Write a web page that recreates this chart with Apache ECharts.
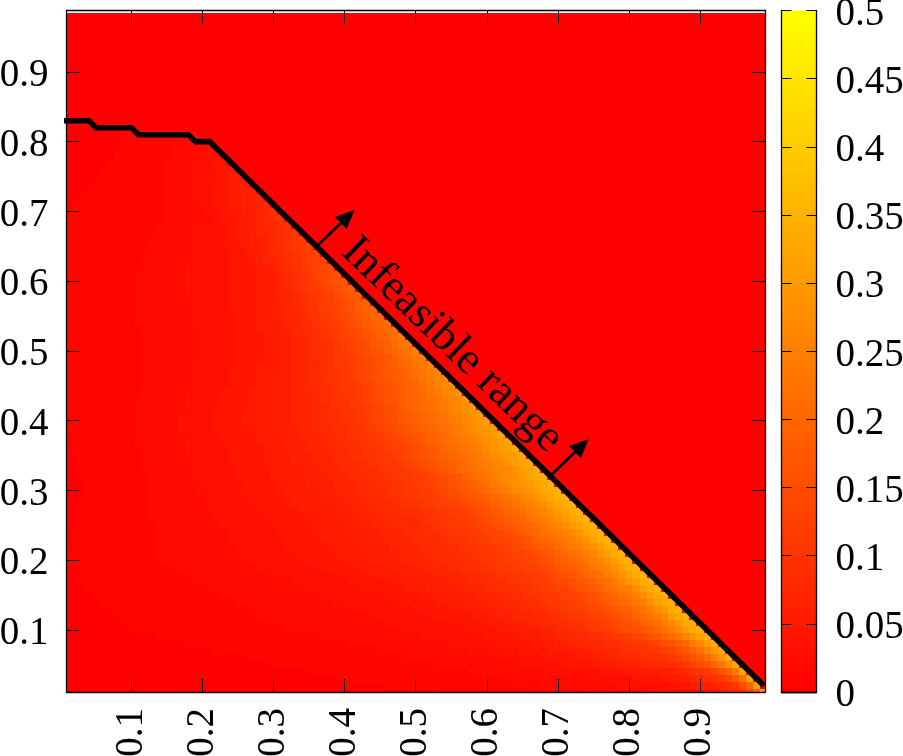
<!DOCTYPE html>
<html><head><meta charset="utf-8">
<style>html,body{margin:0;padding:0;background:#fff}#c{width:903px;height:756px}</style>
<script src="https://cdn.jsdelivr.net/npm/echarts@6/dist/echarts.min.js"></script>
</head><body><div id="c"></div>
<script>
// In rows y = 0.01, 0.02, ... (entry n is y = (n+1)/100).
// d is the distance, in cells, to the left of a row's last cell (x = 1 - y).
// edgeTails: levels (hundredths, base 36) for d = 9..0.
// levelReach: for levels 1, 2, 3, ... the farthest d (>= 10) at which that level is reached.
const edgeTails = [
"445678aeju","566789bfkv","6789abdhmw","789abdgjox","9abdfhknsx","abcegilpty","bcdfhjmquy","cdfgikorvy","eghjlnqtwz","ghikmoruxz",
"ghjkmprtxz","ghjlnprvxz","hijlnpsuxz","hjklnpsvxz","hjkmnpsvxz","ijlmopsvxz","ijlmoqtvyz","iklmpqtvyz","jklnpqtvyz","jklnpqtvyz",
"jlmnpqtvyz","jlmoprtvyz","klmoprtwyz","kmnoqrtwyz","kmnpqsuwyz","kmnpqsuwyz","lmopqsuwyz","lnoprsuwyz","lnoqrtvxyz","moprstvxyz",
"moprstuwxz","mnoqrsuwxy","mnopqrtvwy","lnopqrtvwx","lmnoqrtuvx","lmnpprtuvx","lmnopqstvw","klnopqstuw","klmnoqrtuv","klmnoprstv",
"jklmnpqstu","jklmnoqrsu","ijklmnpqrt","hijklnoqrt","ghijkmnprs","ghijklnopr","fghijkmnpq","efghiklnoq","defghjlmop","defghjkmnp",
"cdefhijlno","cdefghjkmo","bcdefhijln","bcdefgijkm","abcdefhikl","abcdefgijk","9abcdefgij","89abcdfghi","89abcdefhi","789abcefgh",
"6789abdefg","6789abcdef","67789abcde","567889abcd","566789abcd","5566789abc","45567789ab","445667889a","344556789a","3345566789",
"3344556678","3334455667","2333445566","2233344556","2223333455","2222333445","1222233344","1112222333","1111222223","1111111222",
"1111111122"
];
const levelReach = [
[45,25,16],[52,30,19,12],[57,34,23,16,12],[61,38,27,20,16,13],[65,42,30,24,20,17,15,13],[68,45,33,26,22,19,17,15,12],[71,48,35,28,24,21,18,16,14,11],[74,51,37,30,25,22,20,18,15,13,11],[77,54,40,31,26,23,21,19,16,14,13,11,10],[80,58,42,33,28,25,22,20,18,16,15,13,12,11,10],
[80,59,43,34,29,26,23,21,19,17,15,14,12,11,10],[80,60,44,36,30,27,24,21,19,17,16,14,13,11,10],[80,60,46,37,32,28,25,22,20,18,16,15,13,12,11,10],[80,61,47,38,33,29,25,23,20,18,17,15,13,12,11,10],[80,62,48,39,34,30,26,23,21,19,17,15,14,12,11,10],[80,63,49,41,35,32,27,24,22,19,17,16,14,12,11,11,10],[80,64,50,42,36,33,28,25,22,20,18,16,14,13,11,11,10],[79,64,52,43,38,34,29,25,23,20,18,16,14,13,12,11,10],[79,65,53,45,39,35,30,26,24,21,19,17,15,13,12,11,10,10],[79,66,54,46,40,36,31,27,24,21,19,17,15,13,12,11,10,10],
[78,65,54,46,40,36,31,27,24,21,19,17,15,13,12,11,10,10],[76,64,53,46,40,36,31,27,24,21,19,17,15,14,13,12,11,10],[75,63,53,45,40,36,31,27,24,22,19,18,16,14,13,12,11,10,10],[74,62,52,45,40,36,31,27,24,22,20,18,16,14,13,12,11,11,10],[72,61,52,45,39,35,31,28,24,22,20,18,16,15,14,13,12,11,10],[71,61,52,45,39,35,31,28,24,22,20,18,16,15,14,13,12,11,10],[70,60,51,45,39,35,31,28,25,22,20,18,16,15,14,13,12,11,10,10],[69,59,51,44,39,35,31,28,25,23,21,19,17,15,14,13,12,11,11,10],[67,58,50,44,39,35,31,28,25,23,21,19,17,16,15,14,13,12,11,10],[66,57,50,44,39,35,31,28,25,23,21,19,17,16,15,14,13,12,11,10,10],
[65,56,49,43,38,34,30,27,24,22,20,19,17,16,15,14,13,12,11,10,10],[65,55,49,43,38,34,30,27,24,22,20,18,16,15,14,13,12,11,11,10,10],[64,55,48,42,37,33,30,27,24,22,20,18,17,16,15,14,13,12,11,11,10],[63,54,47,42,37,33,30,27,24,22,20,18,17,16,15,14,13,12,11,10],[62,53,47,41,36,33,29,26,24,22,20,18,17,16,15,14,13,12,11,10],[62,52,46,40,35,32,29,26,23,21,19,18,17,15,14,13,12,11,10,10],[61,52,45,40,35,32,28,25,23,21,19,18,16,15,14,13,12,11,11,10],[60,51,45,39,34,31,28,25,23,21,19,17,16,15,14,13,12,11,10],[60,50,44,39,34,31,27,25,22,20,18,17,16,15,14,13,12,11,10],[59,49,43,38,34,30,27,24,22,20,18,17,16,15,14,13,12,11,10],
[58,48,42,37,33,29,26,23,21,19,17,16,15,14,13,12,11,10],[57,47,40,35,31,28,25,22,20,18,17,15,14,13,12,11,10,10],[56,46,39,34,30,27,24,21,20,18,16,15,14,13,12,11,10],[55,44,38,33,29,26,23,20,19,17,16,14,13,12,11,10],[54,43,36,31,27,25,22,20,18,16,15,13,12,11,10],[53,42,35,30,26,24,21,19,17,16,14,13,12,11,10],[52,41,34,29,25,22,20,18,16,15,13,12,11,10],[51,40,33,27,24,21,19,17,15,14,13,11,10],[50,39,31,26,22,20,18,16,15,13,12,10],[49,38,30,25,21,19,17,15,14,12,11,10],
[48,37,29,24,20,18,16,14,13,11,10],[47,36,28,23,19,17,15,13,12,11,10],[46,35,28,22,19,16,14,13,11,10],[45,35,27,21,18,15,14,12,11,10],[44,34,26,20,17,15,13,11,10],[43,33,25,20,16,14,12,11,10],[42,32,24,19,15,13,11,10],[41,31,24,18,14,12,11],[40,30,23,17,13,11,10],[39,29,22,16,12,10],
[38,28,21,15,11],[37,26,20,14,11],[36,25,18,13,10],[35,24,17,12],[34,22,16,11],[33,21,15,11],[32,19,14],[31,18,13],[30,16],[29,15],
[27,14],[25,13],[23,12],[21,11],[19,10],[18],[16],[14],[12],[11],
[10]
];

const cellXs = [0.01,0.02,0.03,0.04,0.05,0.06,0.07,0.08,0.09,0.1,0.11,0.12,0.13,0.14,0.15,0.16,0.17,0.18,0.19,0.2,0.21,0.22,0.23,0.24,0.25,0.26,0.27,0.28,0.29,0.3,0.31,0.32,0.33,0.34,0.35,0.36,0.37,0.38,0.39,0.4,0.41,0.42,0.43,0.44,0.45,0.46,0.47,0.48,0.49,0.5,0.51,0.52,0.53,0.54,0.55,0.56,0.57,0.58,0.59,0.6,0.61,0.62,0.63,0.64,0.65,0.66,0.67,0.68,0.69,0.7,0.71,0.72,0.73,0.74,0.75,0.76,0.77,0.78,0.79,0.8,0.81,0.82,0.83,0.84,0.85,0.86,0.87,0.88,0.89,0.9,0.91,0.92,0.93,0.94,0.95,0.96,0.97,0.98,0.99];
const boundaryX = [0.005].concat(cellXs);
const boundaryY = [0.83,0.83,0.83,0.83,0.83,0.82,0.82,0.82,0.82,0.82,0.82,0.81,0.81,0.81,0.81,0.81,0.81,0.81,0.81,0.8,0.8,0.8,0.79,0.78,0.77,0.76,0.75,0.74,0.73,0.72,0.71,0.7,0.69,0.68,0.67,0.66,0.65,0.64,0.63,0.62,0.61,0.6,0.59,0.58,0.57,0.56,0.55,0.54,0.53,0.52,0.51,0.5,0.49,0.48,0.47,0.46,0.45,0.44,0.43,0.42,0.41,0.4,0.39,0.38,0.37,0.36,0.35,0.34,0.33,0.32,0.31,0.3,0.29,0.28,0.27,0.26,0.25,0.24,0.23,0.22,0.21,0.2,0.19,0.18,0.17,0.16,0.15,0.14,0.13,0.12,0.11,0.1,0.09,0.08,0.07,0.06,0.05,0.04,0.03,0.02];
const xTicks = [0.1,0.2,0.3,0.4,0.5,0.6,0.7,0.8,0.9];
const yTicks = [0.1,0.2,0.3,0.4,0.5,0.6,0.7,0.8,0.9];
const cbarMax = [0.5];
const arrows = [[[0.3626,0.652],[0.4042,0.6927]],[[0.692,0.3236],[0.7337,0.3644]]];
const annotation = {x:0.551,y:0.5086,text:'Infeasible range'};

function levelAt(j, d) {
  const tail = edgeTails[j - 1], reach = levelReach[j - 1];
  if (!tail || d < 0) return 0;
  if (d < 10) return parseInt(tail[9 - d], 36);
  let L = 0;
  reach.forEach((r, i) => { if (r >= d) L = i + 1; });
  return L;
}
const cells = [];
for (let j = 1; j <= 98; j++) {
  cellXs.forEach((x, i) => {
    const d = (100 - j) - (i + 1);
    cells.push([x, j / 100, levelAt(j, d) / 100]);
  });
}

const FONT = 'Liberation Serif', FS = 39, BLACK = '#000';
const chart = echarts.init(document.getElementById('c'), null, {renderer:'canvas'});
const lineStyle = {color:BLACK, width:1.3};
const tick = (len, vals) => ({show:true, inside:true, length:len, customValues:vals, lineStyle:{color:BLACK, width:1}});
function mainAxis(pos, ticks, min, max, labelled) {
  const bottom = pos === 'bottom';
  const shift = bottom ? {} : {verticalAlign:'top', lineHeight:8};
  return {type:'value', position:pos, min, max, z:5, gridIndex:0, splitLine:{show:false},
    axisLine:{show:true, onZero:false, lineStyle}, axisTick:tick(13, ticks),
    axisLabel: labelled ? Object.assign({show:true, customValues:ticks, fontFamily:FONT, fontSize:FS, color:BLACK,
      margin: bottom ? 16 : 18, rotate: bottom ? 90 : 0,
      formatter:v => String(v), hideOverlap:false}, shift) : {show:false}};
}
chart.setOption({
  animation:false, backgroundColor:'#fff',
  grid:[{left:66.5, right:138, top:10.5, bottom:64, outerBoundsMode:'none'},
        {left:781.5, width:35, top:10.5, bottom:64, outerBoundsMode:'none'}],
  xAxis:[mainAxis('bottom', xTicks, 0.0085, 0.9915, true), mainAxis('top', xTicks, 0.0085, 0.9915, false),
    {type:'category', gridIndex:1, data:['c'], position:'bottom', z:5, axisLine:{show:true, lineStyle}, axisTick:{show:false}, axisLabel:{show:false}},
    {type:'category', gridIndex:1, data:['c'], position:'top', z:5, axisLine:{show:true, lineStyle}, axisTick:{show:false}, axisLabel:{show:false}}],
  yAxis:[mainAxis('left', yTicks, 0.0111, 0.988, true), mainAxis('right', yTicks, 0.0111, 0.988, false),
    {type:'value', gridIndex:1, position:'right', min:0, max:0.5, interval:0.05, z:5, splitLine:{show:false},
      axisLine:{show:true, lineStyle}, axisTick:{show:true, inside:true, length:10, lineStyle:{color:BLACK, width:1}},
      axisLabel:{show:true, fontFamily:FONT, fontSize:FS, color:BLACK, margin:19, verticalAlign:'top', lineHeight:8, hideOverlap:false, formatter:v => String(+v.toFixed(2))}},
    {type:'value', gridIndex:1, position:'left', min:0, max:0.5, interval:0.05, z:5, splitLine:{show:false},
      axisLine:{show:true, lineStyle}, axisTick:{show:true, inside:true, length:10, lineStyle:{color:BLACK, width:1}},
      axisLabel:{show:false}}],
  visualMap:[{show:false, type:'continuous', seriesIndex:0, dimension:2, min:0, max:0.5, inRange:{color:['#ff0000','#ffff00']}}],
  series:[
    {type:'custom', xAxisIndex:0, yAxisIndex:0, z:1, silent:true, progressive:0, clip:true, data:cells,
      encode:{x:0,y:1},
      renderItem(params, api) {
        const x = api.value(0), y = api.value(1);
        const a = api.coord([x - 0.005, y + 0.005]), b = api.coord([x + 0.005, y - 0.005]);
        const cs = params.coordSys;
        const x0 = Math.max(Math.round(a[0]), cs.x), x1 = Math.min(Math.round(b[0]), cs.x + cs.width);
        const y0 = Math.max(Math.round(a[1]), cs.y), y1 = Math.min(Math.round(b[1]), cs.y + cs.height);
        if (x1 <= x0 || y1 <= y0) return null;
        return {type:'rect', shape:{x:x0, y:y0, width:x1 - x0, height:y1 - y0},
          style:{fill:api.visual('color')}};
      }},
    {type:'line', xAxisIndex:0, yAxisIndex:0, z:6, silent:true, clip:false, symbol:'none',
      data:boundaryX.map((x, i) => [x, boundaryY[i]]),
      lineStyle:{color:BLACK, width:5.6, cap:'butt', join:'miter'},
      markLine:{silent:true, animation:false, symbol:['none','triangle'], symbolSize:[17,19], precision:5,
        label:{show:false}, lineStyle:{color:BLACK, width:2.8, type:'solid'},
        data:arrows.map(a => [{coord:a[0]},{coord:a[1]}])}},
    {type:'scatter', xAxisIndex:0, yAxisIndex:0, z:7, silent:true, symbolSize:1, itemStyle:{opacity:1, color:'rgba(0,0,0,0)'},
      data:[[annotation.x, annotation.y]],
      label:{show:true, position:'inside', rotate:-44, formatter:annotation.text, opacity:1, fontFamily:FONT, fontSize:45, color:BLACK, align:'center', verticalAlign:'middle'}},
    {type:'bar', xAxisIndex:2, yAxisIndex:2, z:1, silent:true, barWidth:'100%', data:cbarMax,
      itemStyle:{color:new echarts.graphic.LinearGradient(0,1,0,0,[{offset:0,color:'#ff0000'},{offset:1,color:'#ffff00'}])}}
  ]
});
</script></body></html>
